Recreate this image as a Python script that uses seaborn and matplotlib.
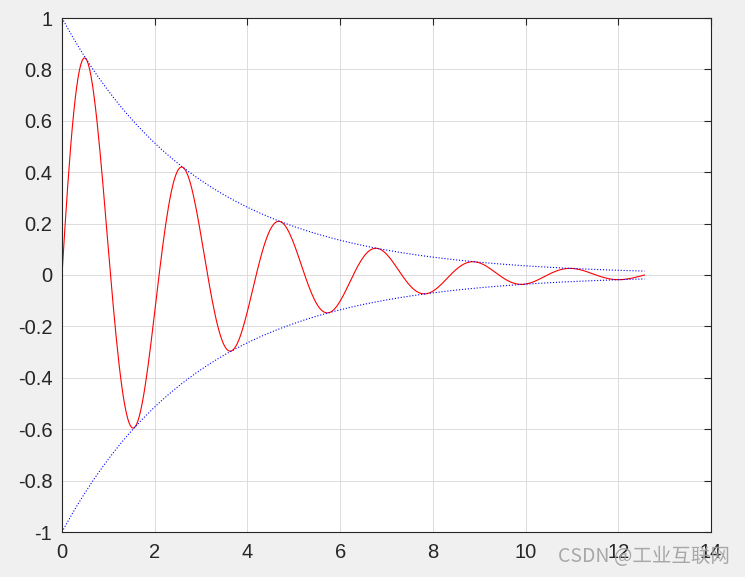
import numpy as np
import matplotlib
matplotlib.use('Agg')
import matplotlib.pyplot as plt
import seaborn as sns
import pandas as pd

# Parametros: y = exp(-t/3) * sin(3t), t de 0 a 4*pi
t_inicio = 0.0
t_fin = 4 * np.pi
decaimiento = 1 / 3
frecuencia = 3
n_puntos = 400

x_ticks = [0, 2, 4, 6, 8, 10, 12, 14]
y_ticks = [-1, -0.8, -0.6, -0.4, -0.2, 0, 0.2, 0.4, 0.6, 0.8, 1]
y_labels = ['-1', '-0.8', '-0.6', '-0.4', '-0.2', '0', '0.2', '0.4', '0.6', '0.8', '1']

t = np.linspace(t_inicio, t_fin, n_puntos)
df = pd.DataFrame({
    't': t,
    'env': np.exp(-decaimiento * t),
    'y': np.exp(-decaimiento * t) * np.sin(frecuencia * t),
})
df['env_neg'] = -df['env']

sns.set_style('white')
plt.rcParams['font.family'] = ['Liberation Sans', 'DejaVu Sans']

fig = plt.figure(figsize=(7.45, 5.77), dpi=100, facecolor='#f0f0f0')
ax = fig.add_axes([62 / 745, 45 / 577, 649 / 745, 514 / 577])
ax.set_facecolor('white')

sns.lineplot(data=df, x='t', y='y', color='red', linewidth=0.8, ax=ax)
sns.lineplot(data=df, x='t', y='env', color='blue', linewidth=0.8, linestyle=':', ax=ax)
sns.lineplot(data=df, x='t', y='env_neg', color='blue', linewidth=0.8, linestyle=':', ax=ax)

ax.set_xlim(0, 14)
ax.set_ylim(-1, 1)
ax.set_xticks(x_ticks)
ax.set_xticklabels([str(v) for v in x_ticks])
ax.set_yticks(y_ticks)
ax.set_yticklabels(y_labels)
ax.set_xlabel('')
ax.set_ylabel('')
ax.grid(True, color='#dcdcdc', linewidth=0.7)
ax.set_axisbelow(True)
ax.tick_params(direction='in', length=5, width=0.8, colors='#262626', labelsize=14.5,
               top=True, right=True)
ax.tick_params(axis='y', pad=7)
ax.tick_params(axis='x', pad=8)
for s in ax.spines.values():
    s.set_color('#262626')
    s.set_linewidth(0.8)

fig.text(0.98, 0.036, 'CSDN @工业互联网', ha='right', va='center', fontsize=14,
         color='#a0a0a0', family=['Noto Sans CJK SC', 'DejaVu Sans'], alpha=0.9)

fig.savefig('out.png', dpi=100, facecolor=fig.get_facecolor())
